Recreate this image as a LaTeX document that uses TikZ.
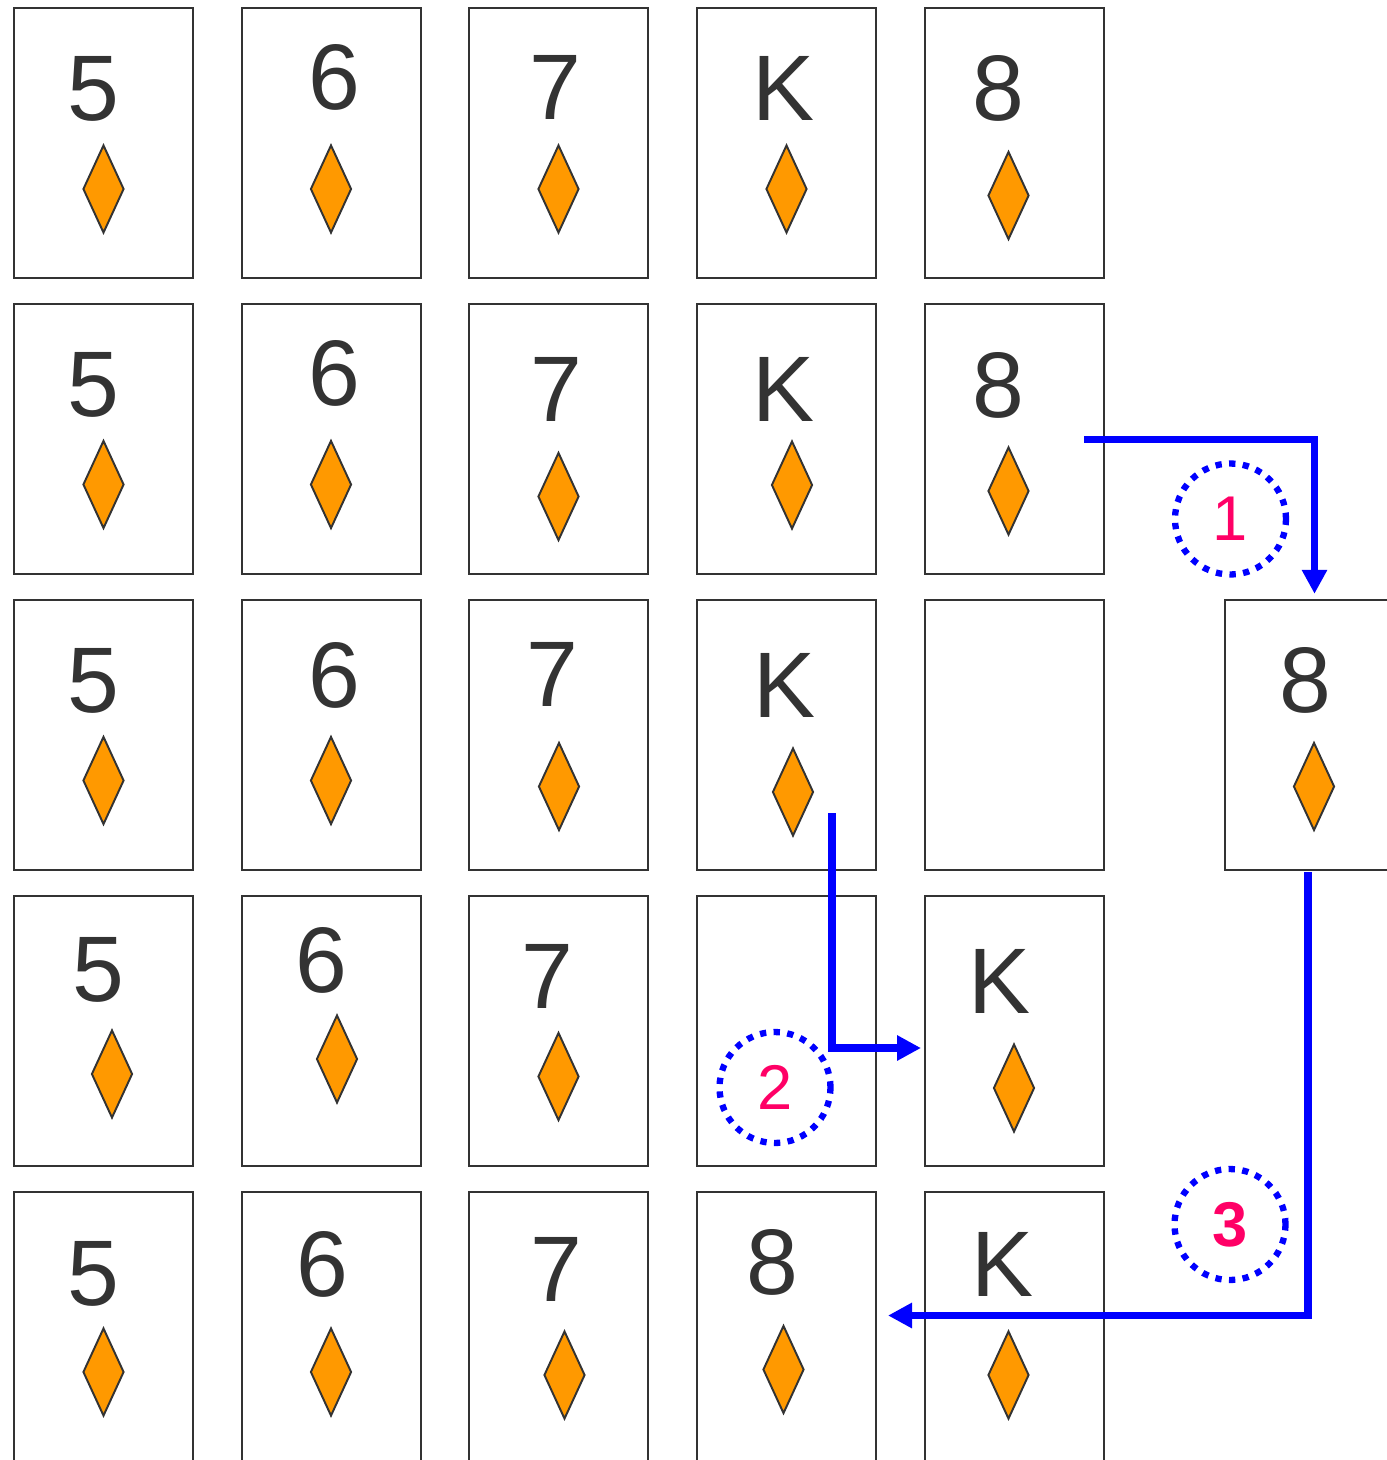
\documentclass[tikz,border=0pt]{standalone}
\usepackage{fontspec}
\setmainfont{Liberation Sans}
\definecolor{inkgray}{RGB}{51,51,51}
\definecolor{suitorange}{RGB}{255,153,0}
\definecolor{moveblue}{RGB}{0,0,255}
\definecolor{stepred}{RGB}{255,0,102}
\usetikzlibrary{shapes.geometric, arrows.meta}

\begin{document}
\begin{tikzpicture}[x=0.02cm, y=-0.02cm,
  card/.style={draw=inkgray, fill=white, line width=1.4pt, minimum width=3.58cm, minimum height=5.4cm, inner sep=0pt},
  rank/.style={text=inkgray, inner sep=0pt, font=\fontsize{53}{60}\selectfont},
  suit/.style={diamond, draw=inkgray, fill=suitorange, line width=1.1pt, minimum width=0.82cm, minimum height=1.76cm, inner sep=0pt},
  move/.style={draw=moveblue, line width=4.4pt, -{Triangle[length=4.8mm, width=4.8mm]}},
  stepmark/.style={circle, draw=moveblue, line width=3.6pt, dash pattern=on 3.6pt off 4.2pt, minimum size=2.22cm, inner sep=0pt, text=stepred, font=\fontsize{36}{40}\selectfont}
]
  \useasboundingbox (0,0) rectangle (1386,1460);

  % row 1
  \node[card] (c11) at (103.5,143) {}; \node[rank] (n11) at (93.5,89) {5}; \node[suit] (d11) at (103.5,189) {};
  \node[card] (c12) at (331.5,143) {}; \node[rank] (n12) at (334,77) {6}; \node[suit] (d12) at (331,189) {};
  \node[card] (c13) at (558.5,143) {}; \node[rank] (n13) at (555,87) {7}; \node[suit] (d13) at (558.5,189) {};
  \node[card] (c14) at (786.5,143) {}; \node[rank] (n14) at (784,88) {K}; \node[suit] (d14) at (786.5,189) {};
  \node[card] (c15) at (1014.5,143) {}; \node[rank] (n15) at (998,88.5) {8}; \node[suit] (d15) at (1008.5,195.5) {};

  % row 2
  \node[card] (c21) at (103.5,439) {}; \node[rank] (n21) at (93,385) {5}; \node[suit] (d21) at (103.5,484.5) {};
  \node[card] (c22) at (331.5,439) {}; \node[rank] (n22) at (334,373.5) {6}; \node[suit] (d22) at (331,484.5) {};
  \node[card] (c23) at (558.5,439) {}; \node[rank] (n23) at (556,389.5) {7}; \node[suit] (d23) at (558.5,496.5) {};
  \node[card] (c24) at (786.5,439) {}; \node[rank] (n24) at (784,389.5) {K}; \node[suit] (d24) at (792,485) {};
  \node[card] (c25) at (1014.5,439) {}; \node[rank] (n25) at (998,385) {8}; \node[suit] (d25) at (1008.5,491) {};

  % row 3
  \node[card] (c31) at (103.5,735) {}; \node[rank] (n31) at (93.5,680.5) {5}; \node[suit] (d31) at (103.5,780.5) {};
  \node[card] (c32) at (331.5,735) {}; \node[rank] (n32) at (334,675) {6}; \node[suit] (d32) at (331,780.5) {};
  \node[card] (c33) at (558.5,735) {}; \node[rank] (n33) at (552.5,674.5) {7}; \node[suit] (d33) at (559,786.5) {};
  \node[card] (c34) at (786.5,735) {}; \node[rank] (n34) at (784.5,685) {K}; \node[suit] (d34) at (793,792) {};
  \node[card] (c35) at (1014.5,735) {};
  \node[card] (x8) at (1314.5,735) {}; \node[rank] (nx8) at (1305.5,680) {8}; \node[suit] (dx8) at (1314,786.5) {};

  % row 4
  \node[card] (c41) at (103.5,1031) {}; \node[rank] (n41) at (98.5,969.5) {5}; \node[suit] (d41) at (112,1074) {};
  \node[card] (c42) at (331.5,1031) {}; \node[rank] (n42) at (321,960.5) {6}; \node[suit] (d42) at (337,1059) {};
  \node[card] (c43) at (558.5,1031) {}; \node[rank] (n43) at (547,976) {7}; \node[suit] (d43) at (558.5,1076.5) {};
  \node[card] (c44) at (786.5,1031) {};
  \node[card] (c45) at (1014.5,1031) {}; \node[rank] (n45) at (999.5,981) {K}; \node[suit] (d45) at (1014,1088) {};

  % row 5
  \node[card] (c51) at (103.5,1327) {}; \node[rank] (n51) at (93,1273.5) {5}; \node[suit] (d51) at (103.5,1372) {};
  \node[card] (c52) at (331.5,1327) {}; \node[rank] (n52) at (322.5,1264.5) {6}; \node[suit] (d52) at (331,1372) {};
  \node[card] (c53) at (558.5,1327) {}; \node[rank] (n53) at (556,1269.5) {7}; \node[suit] (d53) at (564.5,1375) {};
  \node[card] (c54) at (786.5,1327) {}; \node[rank] (n54) at (772,1262.5) {8}; \node[suit] (d54) at (783.5,1369.5) {};
  \node[card] (c55) at (1014.5,1327) {}; \node[rank] (n55) at (1002.5,1264) {K}; \node[suit] (d55) at (1008.5,1375) {};

  % moves
  \coordinate (a1s) at (1084,439.5);
  \coordinate (a2s) at (832,813);
  \coordinate (a2e) at (921,1048);
  \coordinate (a3s) at (1308,872);
  \coordinate (a3e) at (888,1315.5);
  \draw[move] (a1s) -| ([yshift=0.1cm]x8.north);
  \draw[move] (a2s) |- (a2e);
  \draw[move] (a3s) |- (a3e);

  \node[stepmark] (s1) at (1230.5,519) {1};
  \node[stepmark] (s2) at (775,1087.5) {2};
  \node[stepmark] (s3) at (1230,1224.5) {\textbf{3}};
\end{tikzpicture}
\end{document}
